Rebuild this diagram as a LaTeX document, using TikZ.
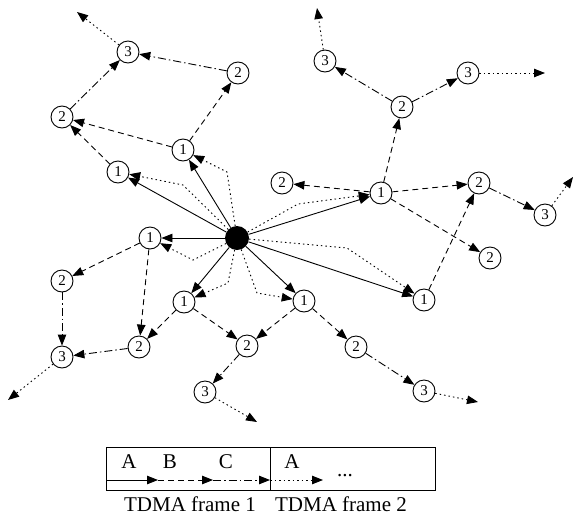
\documentclass[tikz,border=0pt]{standalone}
\usepackage{fontspec}
\setmainfont{Liberation Serif}
\usetikzlibrary{arrows.meta}
\begin{document}
\begin{tikzpicture}[x=1pt,y=-1pt,
  station/.style={circle,draw,line width=0.9pt,minimum size=22pt,inner sep=0pt,
    font=\fontsize{15}{15}\selectfont},
  hub/.style={circle,fill=black,minimum size=24pt,inner sep=0pt},
  link/.style={line width=0.9pt,-{Triangle[length=11pt,width=8.5pt]}},
  slotA/.style={link},
  slotB/.style={link,dash pattern=on 6pt off 4pt},
  slotC/.style={link,dash pattern=on 8pt off 3pt on 1.5pt off 3pt},
  slotD/.style={link,dash pattern=on 1.5pt off 3pt},
  legendtext/.style={font=\fontsize{21}{21}\selectfont,inner sep=0pt},
]
\useasboundingbox (0,0) rectangle (578,517);

% sink
\node[hub] (h) at (237,238) {};

% stations, labelled with their hop count
\node[station] (a1) at (118,172) {1};
\node[station] (b1) at (183,150) {1};
\node[station] (a2) at (62,117) {2};
\node[station] (a3) at (128,52) {3};
\node[station] (b2) at (238,73) {2};
\node[station] (c3) at (325,61) {3};
\node[station] (c2) at (402,107) {2};
\node[station] (d3) at (468,73) {3};
\node[station] (d2) at (282,183) {2};
\node[station] (c1) at (381,193) {1};
\node[station] (e2) at (479,183) {2};
\node[station] (e3) at (545,215) {3};
\node[station] (f2) at (490,258) {2};
\node[station] (d1) at (424,300) {1};
\node[station] (e1) at (304,301) {1};
\node[station] (g2) at (356,347) {2};
\node[station] (g3) at (424,391) {3};
\node[station] (f1) at (184,302) {1};
\node[station] (h2) at (247,346) {2};
\node[station] (h3) at (205,392) {3};
\node[station] (g1) at (150,238) {1};
\node[station] (i2) at (62,281) {2};
\node[station] (i3) at (62,357) {3};
\node[station] (j2) at (139,347) {2};

% outward ends of the fourth hop
\coordinate (x1) at (77,12);
\coordinate (x2) at (317,8);
\coordinate (x3) at (545,73);
\coordinate (x4) at (573,177);
\coordinate (x5) at (8,400);
\coordinate (x6) at (257,422);
\coordinate (x7) at (478,402);

% slot A: sink to first hop
\foreach \n in {a1,b1,g1,f1,e1,c1,d1} \draw[slotA] (h) -- (\n);

% slot B: first hop to second hop
\draw[slotB] (a1) -- (a2);
\draw[slotB] (b1) -- (a2);
\draw[slotB] (b1) -- (b2);
\draw[slotB] (c1) -- (d2);
\draw[slotB] (c1) -- (c2);
\draw[slotB] (c1) -- (e2);
\draw[slotB] (c1) -- (f2);
\draw[slotB] (d1) -- (e2);
\draw[slotB] (g1) -- (i2);
\draw[slotB] (g1) -- (j2);
\draw[slotB] (f1) -- (j2);
\draw[slotB] (f1) -- (h2);
\draw[slotB] (e1) -- (h2);
\draw[slotB] (e1) -- (g2);

% slot C: second hop to third hop
\draw[slotC] (a2) -- (a3);
\draw[slotC] (b2) -- (a3);
\draw[slotC] (c2) -- (c3);
\draw[slotC] (c2) -- (d3);
\draw[slotC] (e2) -- (e3);
\draw[slotC] (i2) -- (i3);
\draw[slotC] (j2) -- (i3);
\draw[slotC] (h2) -- (h3);
\draw[slotC] (g2) -- (g3);

% next frame, slot A: sink again, and third hop outwards
\draw[slotD] (h) -- (183,185) -- (a1);
\draw[slotD] (h) -- (227,172) -- (b1);
\draw[slotD] (h) -- (193,260) -- (g1);
\draw[slotD] (h) -- (228,283) -- (f1);
\draw[slotD] (h) -- (257,293) -- (e1);
\draw[slotD] (h) -- (298,204) -- (c1);
\draw[slotD] (h) -- (347,248) -- (d1);
\draw[slotD] (a3) -- (x1);
\draw[slotD] (c3) -- (x2);
\draw[slotD] (d3) -- (x3);
\draw[slotD] (e3) -- (x4);
\draw[slotD] (i3) -- (x5);
\draw[slotD] (h3) -- (x6);
\draw[slotD] (g3) -- (x7);

% frame legend
\draw[line width=0.9pt] (106,447) rectangle (435,490);
\draw[line width=0.9pt] (270,447) -- (270,490);
\coordinate (l0) at (106,480);
\coordinate (l1) at (158,480);
\coordinate (l2) at (213,480);
\coordinate (l3) at (270,480);
\coordinate (l4) at (323,480);
\draw[slotA] (l0) -- (l1);
\draw[slotB] (l1) -- (l2);
\draw[slotC] (l2) -- (l3);
\draw[slotD] (l3) -- (l4);
\node[legendtext] (ta) at (129,462) {A};
\node[legendtext] (tb) at (170,462) {B};
\node[legendtext] (tc) at (226,462) {C};
\node[legendtext] (td) at (292,462) {A};
\node[legendtext] (tdots) at (345,476) {...};
\node[legendtext] (f1lab) at (190,504) {TDMA frame 1};
\node[legendtext] (f2lab) at (341,504) {TDMA frame 2};
\end{tikzpicture}
\end{document}
